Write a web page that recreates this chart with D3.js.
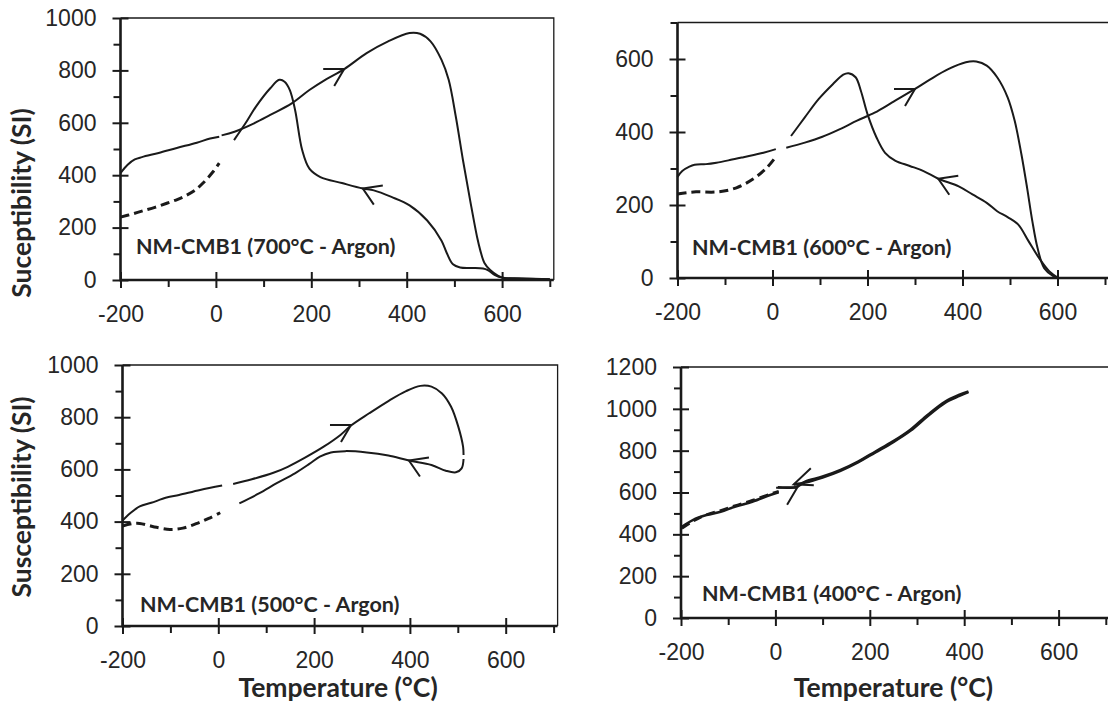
<!DOCTYPE html>
<html>
<head>
<meta charset="utf-8">
<script src="https://cdn.jsdelivr.net/npm/d3@7"></script>
<style>
body { margin: 0; background: #fff; }
svg { font-family: Lato, "Open Sans", sans-serif; }
.tick text { font-size: 23px; fill: #262626; }
.tick line { stroke: #1a1a1a; stroke-width: 2; }
.title { font-size: 21.5px; font-weight: bold; fill: #262626; }
.axis-title { font-size: 26.5px; font-weight: bold; fill: #262626; }
.curve { fill: none; stroke: #1a1a1a; stroke-width: 2; }
.dashed { stroke-width: 3; stroke-dasharray: 9,5; }
.thick .curve { stroke-width: 2.6; }
</style>
</head>
<body>
<div id="chart"></div>
<script>
// ticks
var xTicks = [-200, 0, 200, 400, 600];
var xMinor = [-100, 100, 300, 500, 700];
var yTicks1000 = [0, 200, 400, 600, 800, 1000];
var yMinor1000 = [100, 300, 500, 700, 900];
var yTicks600 = [0, 200, 400, 600];
var yMinor600 = [100, 300, 500, 700];
var yTicks1200 = [0, 200, 400, 600, 800, 1000, 1200];
var yMinor1200 = [100, 300, 500, 700, 900, 1100];

// 700 C run  [temperature, susceptibility]
var lowBefore700 = [[-200,408],[-185,440],[-170,460],[-155,469],[-120,485],[-82,504],[-40,524],[-12,540],[7,547]];
var lowAfter700 = [[-200,240],[-175,252],[-153,264],[-128,277],[-103,293],[-80,308],[-61,324],[-42,345],[-27,370],[-6,413],[7,446]];
var heat700 = [[12,552],[39,566],[80,598],[114,630],[159,674],[196,725],[230,765],[269,805],[316,866],[361,911],[406,943],[428,940],[450,911],[473,840],[488,764],[503,623],[518,457],[533,304],[548,160],[554,115],[563,65],[575,38],[591,17],[605,8],[650,5],[700,3]];
var cool700 = [[700,3],[640,6],[600,9],[585,19],[570,38],[560,44],[535,46],[512,48],[497,60],[484,103],[473,150],[443,227],[406,285],[368,317],[331,342],[308,349],[264,370],[219,393],[196,425],[181,495],[166,649],[155,725],[144,757],[133,764],[114,732],[84,662],[62,598],[38,534]];
var arrows700 = [[269,805,1],[308,349,-1]];

// 600 C run
var lowBefore600 = [[-200,277],[-190,293],[-175,305],[-164,310],[-140,312],[-118,316],[-90,323],[-61,331],[-19,343],[7,353]];
var lowAfter600 = [[-200,230],[-180,234],[-161,236],[-116,236],[-76,247],[-41,271],[-12,302],[8,334]];
var heat600 = [[29,357],[68,371],[105,387],[142,408],[178,431],[215,453],[252,481],[300,518],[333,545],[370,572],[407,591],[429,593],[451,582],[473,550],[495,495],[510,430],[524,339],[536,247],[547,156],[558,82],[572,27],[591,5],[602,0]];
var cool600 = [[602,0],[583,18],[561,55],[539,101],[517,147],[495,167],[473,183],[451,206],[421,229],[392,251],[349,272],[318,293],[289,307],[259,321],[237,343],[219,385],[200,449],[186,513],[175,550],[160,561],[149,557],[127,531],[97,490],[68,440],[39,389]];
var arrows600 = [[300,518,1],[349,272,-1]];

// 500 C run
var lowBefore500 = [[-200,404],[-184,432],[-164,458],[-140,472],[-108,492],[-82,502],[-38,521],[8,538]];
var lowAfter500 = [[-200,383],[-180,392],[-164,393],[-145,385],[-129,378],[-101,370],[-74,375],[-46,392],[-20,412],[4,434]];
var heat500 = [[31,544],[70,562],[115,587],[145,610],[182,646],[220,687],[255,732],[277,768],[315,815],[355,862],[392,900],[422,920],[445,917],[467,891],[486,840],[501,764],[511,687],[512,655]];
var cool500 = [[512,640],[508,604],[496,589],[475,595],[445,617],[398,634],[355,653],[310,665],[265,670],[235,665],[212,649],[190,621],[160,585],[122,547],[85,508],[44,470]];
var arrows500 = [[277,770,1],[398,634,-1]];

// 400 C run
var lowBefore400 = [[-198,436],[-175,468],[-146,492],[-116,508],[-86,532],[-49,556],[-11,588],[7,601]];
var lowAfter400 = [[-198,428],[-175,462],[-146,494],[-116,514],[-86,537],[-49,563],[-11,593],[7,606]];
var heat400 = [[5,625],[46,628],[63,652],[100,676],[138,708],[175,748],[212,796],[249,844],[286,900],[323,972],[360,1035],[390,1067],[409,1083]];
var cool400 = [[409,1080],[390,1062],[360,1030],[323,966],[286,895],[249,840],[212,792],[175,744],[138,704],[100,672],[63,648],[39,639]];
var arrows400 = [[46,623,1],[39,639,-1]];

var svg = d3.select('#chart').append('svg')
    .attr('width', 1108)
    .attr('height', 705);

var line = d3.line().curve(d3.curveCatmullRom.alpha(0.5));

function drawPanel(o) {
    var g = svg.append('g').attr('class', o.thick ? 'thick' : null);
    var x = d3.scaleLinear().domain([-200, 700]).range([o.left, o.left + 9 * o.px100]);
    var y = d3.scaleLinear().domain([0, o.yMax]).range([o.bottom, o.top]);
    var x0 = x(-200), x1 = x(700) + 4;

    // frame (thin top / right)
    g.append('path')
        .attr('d', 'M' + x0 + ',' + o.top + 'H' + x1 + 'V' + o.bottom)
        .attr('fill', 'none').attr('stroke', '#1a1a1a').attr('stroke-width', 1.3);

    // y axis: labels + outer major, inner major, minor
    var ya = g.append('g').attr('transform', 'translate(' + x0 + ',0)');
    ya.append('g').call(d3.axisLeft(y).tickValues(o.yTicks).tickSize(8).tickPadding(16)
        .tickFormat(function(d) { return String(d); }));
    ya.append('g').call(d3.axisLeft(y).tickValues(o.yTicks).tickSize(-8).tickFormat(''));
    ya.append('g').call(d3.axisLeft(y).tickValues(o.yMinor).tickSize(7).tickFormat(''));

    var xa = g.append('g').attr('transform', 'translate(0,' + o.bottom + ')');
    xa.append('g').call(d3.axisBottom(x).tickValues(xTicks).tickSize(8).tickPadding(18)
        .tickFormat(function(d) { return String(d); }));
    xa.append('g').call(d3.axisBottom(x).tickValues(xTicks).tickSize(-8).tickFormat(''));
    xa.append('g').call(d3.axisBottom(x).tickValues(xMinor).tickSize(7).tickFormat(''));
    g.selectAll('.domain').remove();

    // thick axis lines
    g.append('path')
        .attr('d', 'M' + x0 + ',' + o.top + 'V' + o.bottom + 'H' + x1)
        .attr('fill', 'none').attr('stroke', '#1a1a1a').attr('stroke-width', 2.6);

    line.x(function(d) { return x(d[0]); }).y(function(d) { return y(d[1]); });

    g.append('path').attr('class', 'curve').attr('d', line(o.lowBefore));
    g.append('path').attr('class', 'curve dashed').attr('d', line(o.lowAfter));
    g.append('path').attr('class', 'curve').attr('d', line(o.heat));
    g.append('path').attr('class', 'curve').attr('d', line(o.cool));

    // chevron arrows on heating / cooling branches
    o.arrows.forEach(function(a) {
        var tx = x(a[0]), ty = y(a[1]), dir = a[2];
        var arm2 = dir > 0 ? [-10, 17] : (o.upArm ? [17, -16] : [11, 16]);
        var arm1 = dir > 0 ? [-21, 0] : [20, o.upArm ? 1 : -3];
        g.append('path').attr('class', 'curve').style('stroke-width', 2)
            .attr('d', 'M' + (tx + arm1[0]) + ',' + (ty + arm1[1]) + 'L' + tx + ',' + ty +
                'L' + (tx + arm2[0]) + ',' + (ty + arm2[1]));
    });

    g.append('text').attr('class', 'title')
        .attr('x', o.titleX).attr('y', o.titleY).text(o.title);

    if (o.yTitle) {
        g.append('text').attr('class', 'axis-title')
            .attr('text-anchor', 'middle')
            .attr('transform', 'translate(31,' + o.yTitleY + ') rotate(-90)')
            .text(o.yTitle);
    }
    if (o.xTitle) {
        g.append('text').attr('class', 'axis-title')
            .attr('text-anchor', 'middle')
            .attr('x', (x0 + x(700)) / 2).attr('y', o.xTitleY)
            .text(o.xTitle);
    }
}

drawPanel({
    left: 120.5, px100: 47.7, top: 18, bottom: 280, yMax: 1000,
    yTicks: yTicks1000, yMinor: yMinor1000,
    lowBefore: lowBefore700, lowAfter: lowAfter700, heat: heat700, cool: cool700, arrows: arrows700,
    title: 'NM-CMB1 (700°C - Argon)', titleX: 136, titleY: 254,
    yTitle: 'Suceptibility (SI)', yTitleY: 203
});
drawPanel({
    left: 677.5, px100: 47.5, top: 22.5, bottom: 278, yMax: 700,
    yTicks: yTicks600, yMinor: yMinor600,
    lowBefore: lowBefore600, lowAfter: lowAfter600, heat: heat600, cool: cool600, arrows: arrows600,
    title: 'NM-CMB1 (600°C - Argon)', titleX: 692, titleY: 255
});
drawPanel({
    left: 122.5, px100: 47.9, top: 365, bottom: 626, yMax: 1000,
    yTicks: yTicks1000, yMinor: yMinor1000,
    lowBefore: lowBefore500, lowAfter: lowAfter500, heat: heat500, cool: cool500, arrows: arrows500,
    title: 'NM-CMB1 (500°C - Argon)', titleX: 140, titleY: 612,
    yTitle: 'Susceptibility (SI)', yTitleY: 497,
    xTitle: 'Temperature (°C)', xTitleY: 697
});
drawPanel({
    left: 681, px100: 47.2, top: 367, bottom: 618, yMax: 1200,
    yTicks: yTicks1200, yMinor: yMinor1200,
    lowBefore: lowBefore400, lowAfter: lowAfter400, heat: heat400, cool: cool400, arrows: arrows400,
    upArm: true, thick: true,
    title: 'NM-CMB1 (400°C - Argon)', titleX: 702, titleY: 601,
    xTitle: 'Temperature (°C)', xTitleY: 697
});
</script>
</body>
</html>
